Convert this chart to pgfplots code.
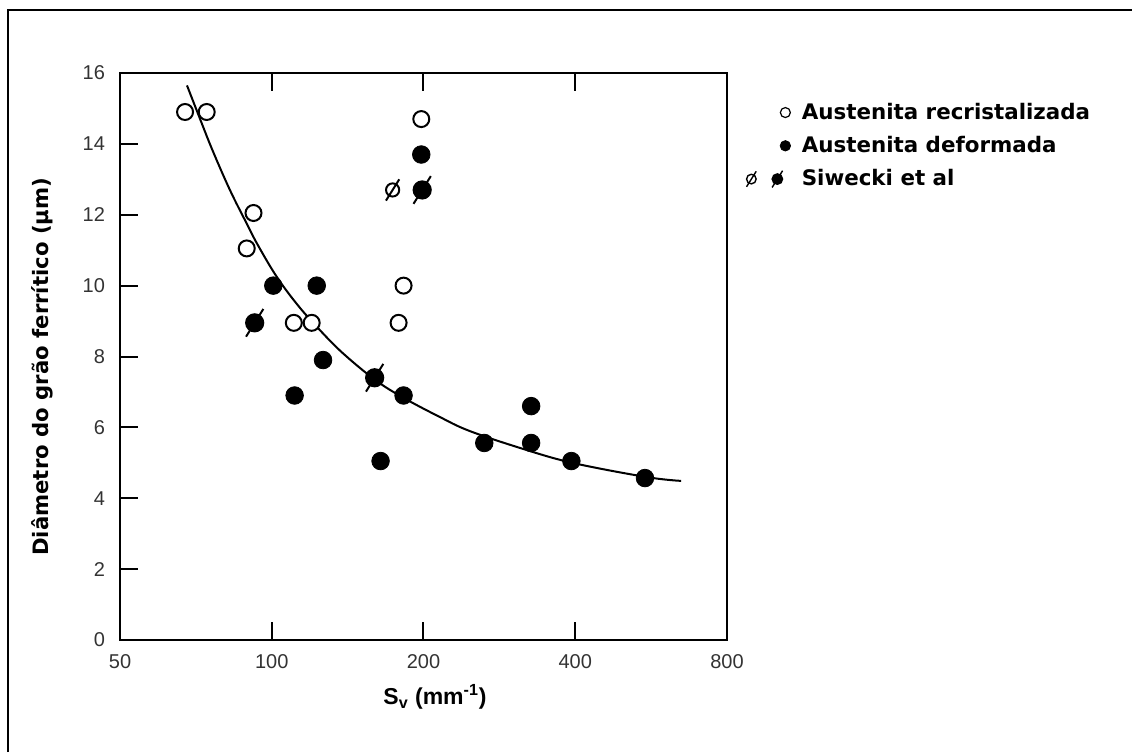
\documentclass[border=0pt]{standalone}
\usepackage{fontspec}
\setmainfont{Liberation Sans}
\newfontfamily\djv{DejaVu Sans}
\usepackage{pgfplots}
\pgfplotsset{compat=1.18}

% circle with a slash through it (Siwecki et al)
\pgfdeclareplotmark{slashcirc}{%
  \pgfpathcircle{\pgfpointorigin}{\pgfplotmarksize}%
  \pgfusepathqfillstroke
  \pgfpathmoveto{\pgfpointpolar{238}{1.9\pgfplotmarksize}}%
  \pgfpathlineto{\pgfpointpolar{58}{1.9\pgfplotmarksize}}%
  \pgfusepathqstroke}

\begin{document}
\begin{tikzpicture}
\useasboundingbox (-60pt,-56pt) rectangle (506pt,320pt);
\draw[line width=1pt] (-56pt,-56pt) -- (-56pt,315pt) -- (506pt,315pt);
\begin{axis}[
    scale only axis, width=303.5pt, height=283.5pt,
    xmode=log, log basis x=2, xmin=50, xmax=800,
    ymin=0, ymax=16,
    xtick={50,100,200,400,800}, xticklabels={50,100,200,400,800},
    ytick={0,2,...,16},
    ytick pos=left,
    tick align=inside,
    major tick length=9pt,
    every tick/.style={black, line width=1pt},
    axis line style={line width=1.3pt},
    tick label style={font=\fontsize{10}{12}\selectfont, text=black!80},
    yticklabel style={xshift=-4pt},
    xticklabel style={yshift=-3.5pt},
    /pgf/number format/assume math mode=true,
    ylabel={\djv\bfseries\fontsize{10.6}{12}\selectfont Diâmetro do grão ferrítico (µm)},
    ylabel style={at={(axis description cs:-0.1285,0.482)}, anchor=center},
    xlabel={\bfseries\fontsize{11.5}{13}\selectfont S\textsubscript{v} (mm\textsuperscript{-1})},
    xlabel style={at={(axis description cs:0.519,-0.1005)}, anchor=center},
    clip=false,
    legend style={at={(axis description cs:1.0315,0.955)}, anchor=north west,
        draw=none, fill=none, inner sep=0pt, row sep=3pt,
        font=\djv\bfseries\fontsize{10.7}{13}\selectfont},
    legend cell align=left,
]
% fitted curve
\addplot[black, line width=1pt, smooth, tension=0.6, forget plot] coordinates {
    (67.9,15.65) (72.0,14.72) (76.4,13.8) (82.6,12.7) (89.2,11.75)
    (93.8,11.15) (102.3,10.25) (112.6,9.45) (124.5,8.75) (138.2,8.1)
    (160,7.35) (181.7,6.85) (215,6.3) (246.7,5.9) (314,5.4)
    (394.6,5.0) (553,4.6) (648.6,4.49)
};
\addplot[only marks, mark=*, mark size=4pt,
    mark options={draw=black, fill=white, line width=1pt},
    legend image code/.code={%
      \draw[mark=*, mark size=2.5pt, mark options={draw=black, fill=white, line width=0.6pt}]
        plot coordinates {(0pt,0pt)};
      \path (6pt,0pt);
    }] coordinates {
    (67.3,14.9) (74.3,14.9) (92,12.05) (89.2,11.05) (110.6,8.95)
    (120,8.95) (198,14.7) (182.6,10.0) (178.5,8.95)
};
\addlegendentry{Austenita recristalizada}
\addplot[only marks, mark=*, mark size=4.4pt,
    mark options={draw=black, fill=black},
    legend image code/.code={%
      \draw[mark=*, mark size=2.6pt, mark options={draw=black, fill=black}]
        plot coordinates {(0pt,0pt)};
      \path (6pt,0pt);
    }] coordinates {
    (198,13.7) (100.7,10.0) (122.8,10.0) (126.4,7.9) (111,6.9)
    (182.6,6.9) (164.4,5.05) (264,5.56) (327,5.56) (327,6.6)
    (393,5.05) (550,4.57)
};
\addlegendentry{Austenita deformada}
\addplot[only marks, mark=slashcirc, mark size=3.3pt,
    mark options={draw=black, fill=white, line width=1pt}, forget plot] coordinates {
    (173.7,12.7)
};
\addplot[only marks, mark=slashcirc, mark size=4.3pt,
    mark options={draw=black, fill=black, line width=1pt},
    legend image code/.code={%
      \draw[mark=slashcirc, mark size=2.4pt, mark options={draw=black, fill=white, line width=0.7pt}]
        plot coordinates {(-17pt,0pt)};
      \draw[mark=slashcirc, mark size=2.6pt, mark options={draw=black, fill=black, line width=0.7pt}]
        plot coordinates {(-4pt,0pt)};
      \path (6pt,0pt);
    }] coordinates {
    (92.5,8.95) (198.8,12.7) (160,7.4)
};
\addlegendentry{Siwecki et al}
\end{axis}
\end{tikzpicture}
\end{document}
